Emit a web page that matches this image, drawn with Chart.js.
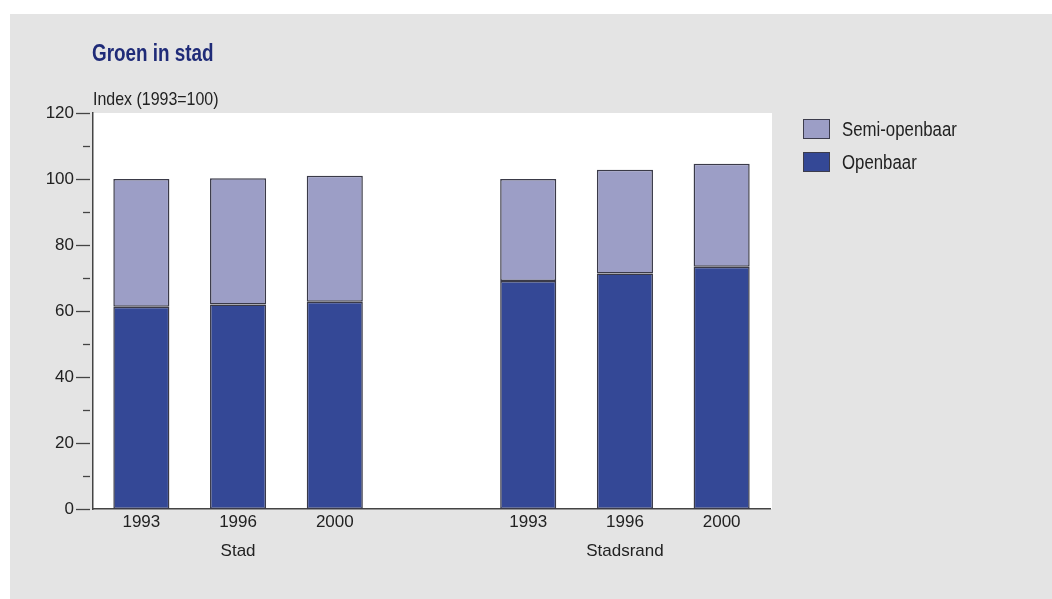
<!DOCTYPE html>
<html>
<head>
<meta charset="utf-8">
<script src="https://cdn.jsdelivr.net/npm/chart.js@4.4.0/dist/chart.umd.min.js"></script>
<style>
  body { margin: 0; background: #fff; width: 1052px; height: 599px; overflow: hidden; position: relative;
         font-family: "Liberation Sans", Arial, sans-serif; }
  #panel { position: absolute; left: 10px; top: 14px; right: 0; bottom: 0; background: #e4e4e4; }
  #chart { position: absolute; left: 0; top: 0; }
  .txt { position: absolute; white-space: nowrap; transform: scaleX(0.84); transform-origin: 0 0; }
  #title { left: 92px; top: 42px; font-size: 23px; line-height: 23px; font-weight: bold; color: #1f2b78; transform: scaleX(0.82); }
  #ylabel { left: 93px; top: 89px; font-size: 19px; line-height: 19px; color: #222; }
  .lbox { position: absolute; left: 803px; width: 25px; height: 18px; border: 1px solid #3c3c4c; }
  .ltxt { left: 842px; font-size: 20px; line-height: 20px; color: #222; }
</style>
</head>
<body>
<div id="panel"></div>
<canvas id="chart" width="1052" height="599"></canvas>
<div class="txt" id="title">Groen in stad</div>
<div class="txt" id="ylabel">Index (1993=100)</div>
<div id="legend"></div>
<script>
// data
const groups = ['Stad', 'Stadsrand'];
const years = ['1993', '1996', '2000'];
const openbaarStad = [61.3, 62.0, 62.8];
const openbaarRand = [69.1, 71.4, 73.4];
const semiStad = [38.7, 38.2, 38.2];
const semiRand = [30.9, 31.4, 31.2];
const yTicks = [0, 20, 40, 60, 80, 100, 120];

const darkBlue = 'rgb(52, 72, 150)';
const lightBlue = 'rgb(156, 158, 198)';
const edge = '#3a3a48';

// one blank slot between the two groups, group name under the middle year
function groupLabels(name) {
    return years.map((y, i) => i === 1 ? [y, name] : [y]);
}
const labels = groupLabels(groups[0]).concat([''], groupLabels(groups[1]));
const openbaar = openbaarStad.concat([null], openbaarRand);
const semi = semiStad.concat([null], semiRand);

// legend (top item = top of stack)
const legendItems = [['Semi-openbaar', lightBlue, 119], ['Openbaar', darkBlue, 152]];
const legendDiv = document.getElementById('legend');
legendItems.forEach(([name, col, top]) => {
    const b = document.createElement('div');
    b.className = 'lbox';
    b.style.top = top + 'px';
    b.style.background = col;
    legendDiv.appendChild(b);
    const t = document.createElement('div');
    t.className = 'txt ltxt';
    t.style.top = top + 'px';
    t.textContent = name;
    legendDiv.appendChild(t);
});

const plotBg = {
    id: 'plotBg',
    beforeDraw(chart) {
        const a = chart.chartArea;
        const ctx = chart.ctx;
        ctx.save();
        ctx.fillStyle = '#ffffff';
        ctx.fillRect(a.left, a.top, a.right - a.left + 2, a.bottom - a.top);
        ctx.restore();
    }
};

// major + minor tick marks left of the y axis
const yMarks = {
    id: 'yMarks',
    afterDraw(chart) {
        const s = chart.scales.y;
        const ctx = chart.ctx;
        ctx.save();
        ctx.strokeStyle = '#444';
        ctx.lineWidth = 1.3;
        for (let v = 0; v <= 120; v += 10) {
            const y = Math.round(s.getPixelForValue(v)) + 0.5;
            const len = v % 20 === 0 ? 14 : 7;
            ctx.beginPath();
            ctx.moveTo(s.right - 3 - len, y);
            ctx.lineTo(s.right - 3, y);
            ctx.stroke();
        }
        ctx.restore();
    }
};

const font = { family: '"Liberation Sans", Arial, sans-serif', size: 17, lineHeight: 1.75 };

new Chart(document.getElementById('chart'), {
    type: 'bar',
    data: {
        labels: labels,
        datasets: [{
            label: 'Openbaar',
            data: openbaar,
            backgroundColor: darkBlue,
            borderColor: edge,
            borderWidth: 1.5,
            borderSkipped: false
        }, {
            label: 'Semi-openbaar',
            data: semi,
            backgroundColor: lightBlue,
            borderColor: edge,
            borderWidth: 1.5,
            borderSkipped: false
        }]
    },
    options: {
        responsive: false,
        animation: false,
        devicePixelRatio: 1,
        barPercentage: 0.58,
        categoryPercentage: 1,
        layout: { padding: { left: 0, top: 113, right: 282, bottom: 0 } },
        plugins: { legend: { display: false }, tooltip: { enabled: false } },
        scales: {
            x: {
                stacked: true,
                grid: { display: false, drawTicks: false },
                border: { display: true, color: '#444', width: 1.5 },
                ticks: { color: '#222', font: font, padding: -2, maxRotation: 0, autoSkip: false },
                afterFit(scale) { scale.height = 90; }
            },
            y: {
                stacked: true,
                min: 0,
                max: 120,
                afterBuildTicks(scale) { scale.ticks = yTicks.map(v => ({ value: v })); },
                grid: { display: false, drawTicks: false },
                border: { display: true, color: '#444', width: 1.5 },
                ticks: { color: '#222', font: font, padding: 19 },
                afterFit(scale) { scale.width = 93; }
            }
        }
    },
    plugins: [plotBg, yMarks]
});
</script>
</body>
</html>
